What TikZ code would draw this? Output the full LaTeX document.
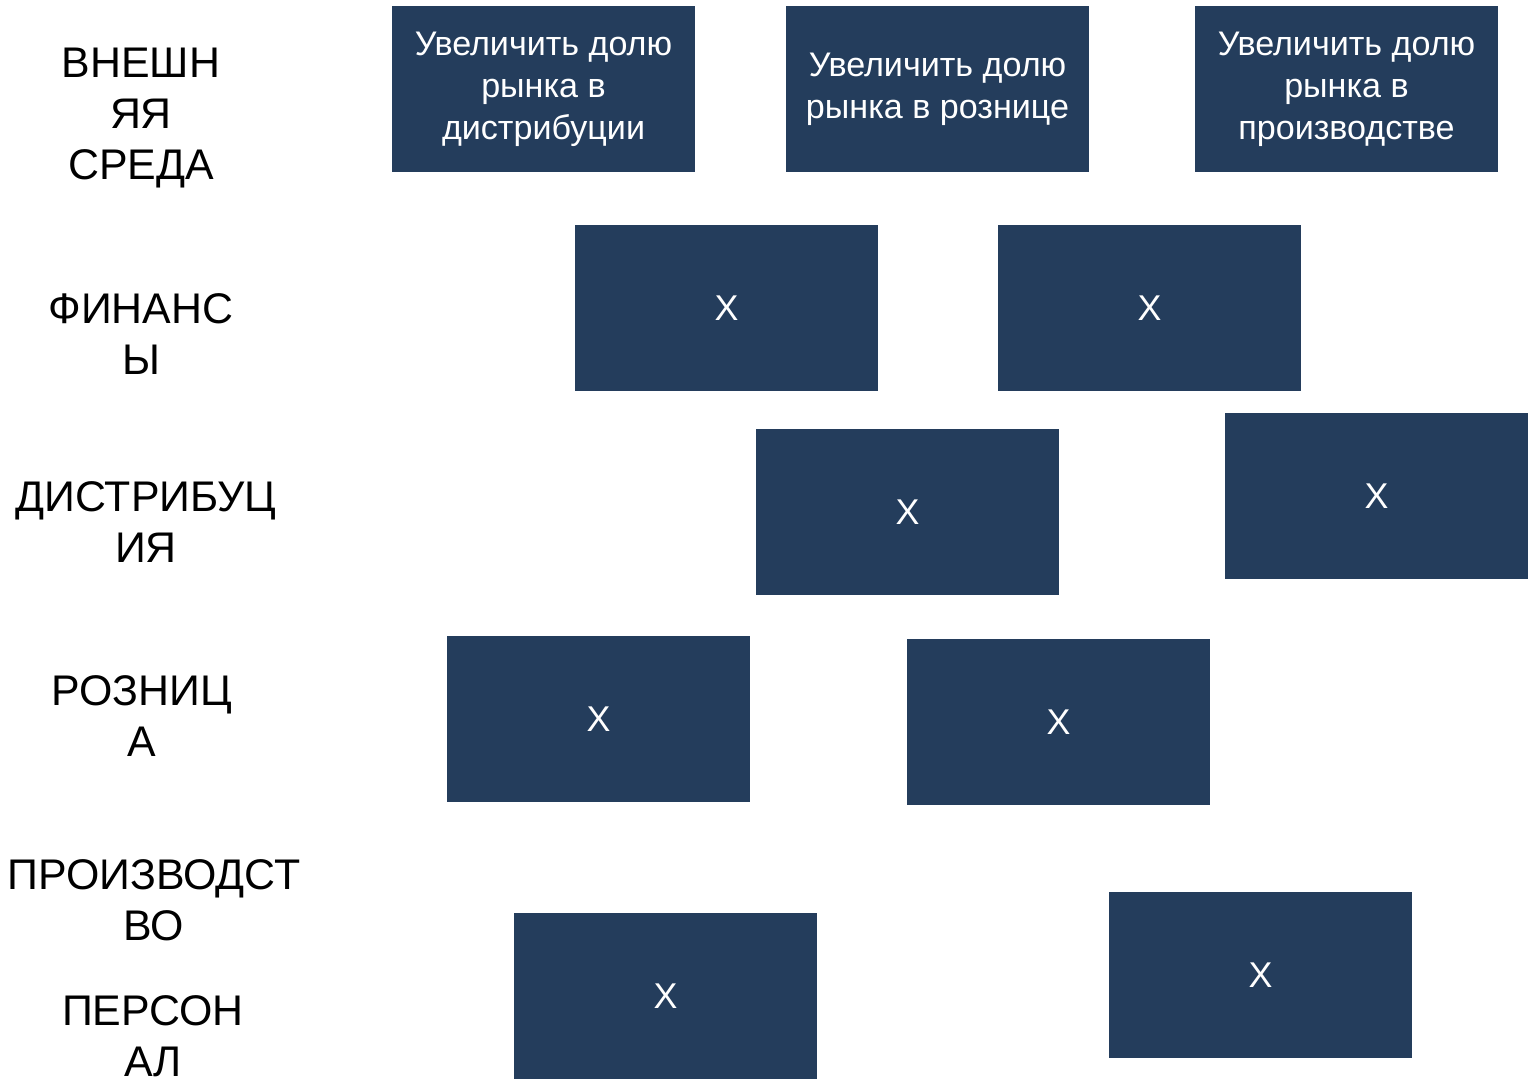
\documentclass[tikz,border=0pt]{standalone}
\usepackage{fontspec}
\setmainfont{Liberation Sans}
\definecolor{boxblue}{HTML}{243D5C}
\tikzset{
    goal/.style={fill=boxblue, text=white, minimum width=6.06cm, minimum height=3.32cm,
        align=center, inner sep=0pt, font=\fontsize{19.4}{23.8}\selectfont},
    cell/.style={goal, font=\fontsize{20.4}{24}\selectfont},
    rowname/.style={align=center, inner sep=0pt, font=\fontsize{24.4}{28.9}\selectfont}
}

\begin{document}
\begin{tikzpicture}[x=0.02cm, y=-0.02cm]
    \useasboundingbox (0,0) rectangle (1530,1079);
    % row names
    \node[rowname] (ext)  at (141,118) {ВНЕШН\\ЯЯ\\СРЕДА};
    \node[rowname] (fin)  at (141,334) {ФИНАНС\\Ы};
    \node[rowname] (dist) at (146,522) {ДИСТРИБУЦ\\ИЯ};
    \node[rowname] (ret)  at (142,716) {РОЗНИЦ\\А};
    \node[rowname] (prod) at (154,900) {ПРОИЗВОДСТ\\ВО};
    \node[rowname] (pers) at (153,1036) {ПЕРСОН\\АЛ};
    % goals
    \node[goal] (extA) at (543.5,89) {Увеличить долю\\рынка в\\дистрибуции};
    \node[goal] (extB) at (937.5,89) {Увеличить долю\\рынка в рознице};
    \node[goal] (extC) at (1346.5,89) {Увеличить долю\\рынка в\\производстве};
    % marks
    \node[cell] (finA)  at (726.5,308) {X};
    \node[cell] (finB)  at (1149.5,308) {X};
    \node[cell] (distA) at (907.5,512) {X};
    \node[cell] (distB) at (1376.5,496) {X};
    \node[cell] (retA)  at (598.5,719) {X};
    \node[cell] (retB)  at (1058.5,722) {X};
    \node[cell] (persA) at (665.5,996) {X};
    \node[cell] (persB) at (1260.5,975) {X};
\end{tikzpicture}
\end{document}
